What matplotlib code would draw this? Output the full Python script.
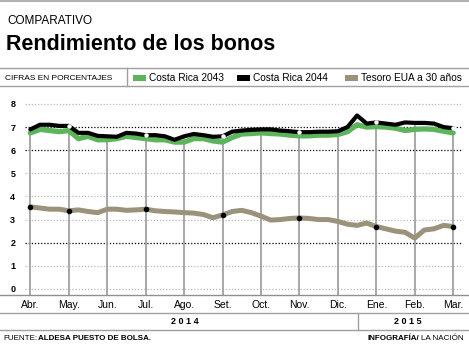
import matplotlib
matplotlib.use('Agg')
import matplotlib.pyplot as plt
from matplotlib.lines import Line2D
from matplotlib.patches import Rectangle
import numpy as np

plt.rcParams['font.family'] = ['Liberation Sans Narrow', 'Liberation Sans', 'DejaVu Sans']

# datos (cada 1/4 de mes, desde abril 2014)
meses = ['Abr.', 'May.', 'Jun.', 'Jul.', 'Ago.', 'Set.', 'Oct.', 'Nov.', 'Dic.', 'Ene.', 'Feb.', 'Mar.']
cr2043 = [6.75, 6.9, 6.85, 6.8, 6.85, 6.5, 6.6, 6.45, 6.45, 6.5, 6.6, 6.55,
          6.5, 6.45, 6.45, 6.35, 6.35, 6.5, 6.5, 6.4, 6.35, 6.55, 6.7, 6.72,
          6.75, 6.72, 6.7, 6.65, 6.62, 6.62, 6.65, 6.65, 6.68, 6.8, 7.1, 7.0,
          7.02, 7.0, 6.95, 6.85, 6.9, 6.92, 6.9, 6.82, 6.75]
cr2044 = [6.9, 7.1, 7.1, 7.05, 7.05, 6.75, 6.75, 6.62, 6.6, 6.58, 6.75, 6.72,
          6.65, 6.65, 6.6, 6.45, 6.6, 6.7, 6.65, 6.58, 6.6, 6.8, 6.85, 6.88,
          6.9, 6.9, 6.85, 6.82, 6.78, 6.78, 6.8, 6.8, 6.82, 7.0, 7.5, 7.15,
          7.2, 7.15, 7.1, 7.2, 7.18, 7.18, 7.15, 7.0, 6.95]
tesoro = [3.55, 3.5, 3.45, 3.45, 3.38, 3.42, 3.35, 3.3, 3.45, 3.45, 3.4, 3.42,
          3.45, 3.38, 3.35, 3.33, 3.3, 3.28, 3.22, 3.08, 3.2, 3.35, 3.4, 3.3,
          3.15, 2.98, 3.0, 3.05, 3.07, 3.05, 3.0, 3.0, 2.92, 2.8, 2.75, 2.85,
          2.7, 2.6, 2.5, 2.45, 2.2, 2.55, 2.6, 2.75, 2.7]
x = np.arange(len(cr2044)) * 0.25

VERDE = '#5cb55a'
CAFE = '#9b927c'
GRIS = '#9a9a9a'
SANS = ['Liberation Sans', 'DejaVu Sans']

W, H = 469, 352
fig = plt.figure(figsize=(W / 100, H / 100), dpi=100)

def fx(px):
    return px / W

def fy(py):
    return 1 - py / H

def hline(py, x0=0, x1=W, color=GRIS, lw=1.0):
    fig.add_artist(Line2D([fx(x0), fx(x1)], [fy(py), fy(py)], color=color, lw=lw))

def vline(px, y0, y1, color=GRIS, lw=1.0):
    fig.add_artist(Line2D([fx(px), fx(px)], [fy(y0), fy(y1)], color=color, lw=lw))

# encabezado
hline(1, color='#b0b0b0', lw=1.5)
fig.text(fx(7), fy(21), 'COMPARATIVO', fontsize=8.5, va='center', ha='left', family=SANS)
fig.text(fx(6), fy(44), 'Rendimiento de los bonos', fontsize=15.5, weight='bold',
         va='center', ha='left', family=SANS)

hline(68, color='#a0a0a0')
hline(86, color='#a0a0a0')
vline(127, 68, 86, color='#a0a0a0')
fig.text(fx(5), fy(78), 'CIFRAS EN PORCENTAJES', fontsize=6, va='center', ha='left', family=SANS)

leyenda = [(133, VERDE, 'Costa Rica 2043'), (237, 'black', 'Costa Rica 2044'),
           (345, CAFE, 'Tesoro EUA a 30 años')]
for px, c, t in leyenda:
    fig.add_artist(Rectangle((fx(px), fy(81)), fx(13), 6 / H, color=c, lw=0))
    fig.text(fx(px + 16), fy(78), t, fontsize=7.3, va='center', ha='left', family=SANS)

# grafico
ax = fig.add_axes([fx(25), fy(295), fx(462) - fx(25), fy(100) - fy(295)])
ax.set_xlim(-0.14, 11.23)
ax.set_ylim(-0.26, 8.17)
for s in ax.spines.values():
    s.set_visible(False)
ax.set_xticks([])
ax.set_yticks(range(9))
ax.set_yticklabels([str(v) for v in range(9)], fontsize=6.5, weight='bold', family=SANS)
ax.tick_params(axis='y', length=0, pad=7)

for v in range(9):
    oscuro = v in (2, 6, 7)
    ax.axhline(v, color='black' if oscuro else '#b8b8b8', lw=0.9, ls=(0, (1, 1.5)), zorder=1)

marcas = np.arange(12)
tope = np.interp(marcas, x, cr2044)
ax.vlines(marcas, -0.26, tope, color=GRIS, lw=1.2, zorder=2)

ax.plot(x, tesoro, color=CAFE, lw=3.6, solid_capstyle='round', zorder=3)
ax.plot(x, cr2043, color=VERDE, lw=3.8, solid_capstyle='round', zorder=3)
ax.plot(x, cr2044, color='black', lw=3.0, solid_capstyle='round', zorder=4)

pares = marcas[1::2]
ax.plot(pares, np.interp(pares, x, cr2044), 'o', color='white', ms=2.2, zorder=5)
impares = np.concatenate([[0], pares])
ax.plot(impares, np.interp(impares, x, tesoro), 'o', color='black', ms=3, zorder=5)

# eje inferior
hline(295, color='#909090')
for i, m in enumerate(meses):
    px = 30.5 + i * 38.45
    fig.text(fx(px), fy(305), m, fontsize=7.5, va='center', ha='center')
hline(313, color='#a0a0a0')
vline(358, 313, 330, color='#a0a0a0')
fig.text(fx(185), fy(322), '2 0 1 4', fontsize=6.5, weight='bold', va='center', ha='center', family=SANS)
fig.text(fx(408), fy(322), '2 0 1 5', fontsize=6.5, weight='bold', va='center', ha='center', family=SANS)
hline(330, color='#a0a0a0')

fig.text(fx(3), fy(339), 'FUENTE:', fontsize=5.8, va='center', ha='left', family=SANS)
fig.text(fx(38), fy(339), 'ALDESA PUESTO DE BOLSA.', fontsize=5.8, weight='bold',
         va='center', ha='left', family=SANS)
fig.text(fx(419), fy(339), 'INFOGRAFÍA/', fontsize=5.8, weight='bold', va='center', ha='right', family=SANS)
fig.text(fx(464), fy(339), 'LA NACIÓN', fontsize=5.8, va='center', ha='right', family=SANS)

fig.savefig('out.png', dpi=100)
